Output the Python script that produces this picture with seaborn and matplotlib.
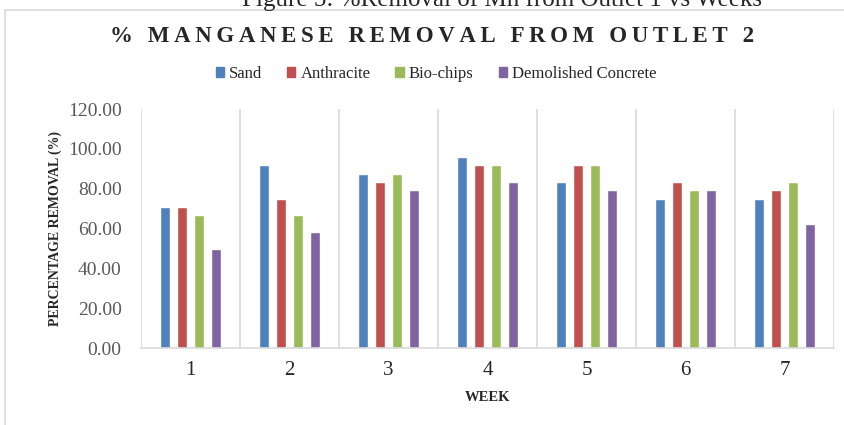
import pandas as pd
import matplotlib.pyplot as plt
import seaborn as sns
from matplotlib.patches import Rectangle

# Data (% Mn removal, outlet 2)
weeks = ["1", "2", "3", "4", "5", "6", "7"]
sand = [70.83, 91.67, 87.50, 95.83, 83.33, 75.00, 75.00]
anthracite = [70.83, 75.00, 83.33, 91.67, 91.67, 83.33, 79.17]
bio_chips = [66.67, 66.67, 87.50, 91.67, 91.67, 79.17, 83.33]
concrete = [50.00, 58.33, 79.17, 83.33, 79.17, 79.17, 62.50]
media = ["Sand", "Anthracite", "Bio-chips", "Demolished Concrete"]
colors = ["#4F81BD", "#C0504D", "#9BBB59", "#8064A2"]
yticks = [0, 20, 40, 60, 80, 100, 120]

rows = []
for name, vals in zip(media, [sand, anthracite, bio_chips, concrete]):
    for w, v in zip(weeks, vals):
        rows.append({"week": w, "media": name, "removal": v})
df = pd.DataFrame(rows)

sns.set_style("white")
plt.rcParams["font.family"] = ["Liberation Serif", "DejaVu Serif"]

fig = plt.figure(figsize=(8.44, 4.25), dpi=100)
ax = fig.add_axes([141 / 844, 1 - 348.3 / 425, 693 / 844, 239.3 / 425])

sns.barplot(data=df, x="week", y="removal", hue="media", palette=colors,
            width=0.69, gap=0.44, ax=ax, legend=False, saturation=1)

ax.set_xlim(-0.5, 6.5)
ax.set_ylim(0, 120)
ax.set_yticks(yticks)
ax.set_yticklabels([f"{t:.2f}" for t in yticks], fontsize=14, color="#595959")
ax.tick_params(axis="y", length=0, pad=14)
ax.tick_params(axis="x", length=0, labelsize=15, pad=9)
for lab in ax.get_xticklabels():
    lab.set_color("#262626")

for s in ["top", "right", "left"]:
    ax.spines[s].set_visible(False)
ax.spines["bottom"].set_color("#D9D9D9")
ax.spines["bottom"].set_linewidth(1.2)
for xb in [i - 0.5 for i in range(8)]:
    ax.axvline(xb, color="#D9D9D9", lw=1.2, zorder=0)

ax.set_xlabel("WEEK", fontsize=10.5, fontweight="bold", labelpad=8)
ax.set_ylabel("PERCENTAGE REMOVAL (%)", fontsize=10, fontweight="bold", labelpad=4)

# chart frame
fig.patches.append(Rectangle((5 / 844, -0.1), 1.2, 1 - 9.5 / 425 + 0.1,
                             transform=fig.transFigure, fill=False,
                             edgecolor="#D9D9D9", lw=1.2))

# caption from the page, cut at the top
fig.text(502 / 844, 1 - 6 / 425, "Figure 5: %Removal of Mn from Outlet 1 vs Weeks",
         ha="center", va="baseline", fontsize=18)

title = "\u2009".join("% MANGANESE REMOVAL FROM OUTLET 2")
fig.text(432 / 844, 1 - 36 / 425, title,
         ha="center", va="center", fontsize=16.5, fontweight="bold")

handles = [Rectangle((0, 0), 1, 1, color=c) for c in colors]
fig.legend(handles, media, loc="center", bbox_to_anchor=(436 / 844, 1 - 74 / 425),
           ncol=4, frameon=False, fontsize=12, handlelength=0.5, handleheight=0.5,
           handletextpad=0.3, columnspacing=1.5)

fig.savefig("out.png", dpi=100)
